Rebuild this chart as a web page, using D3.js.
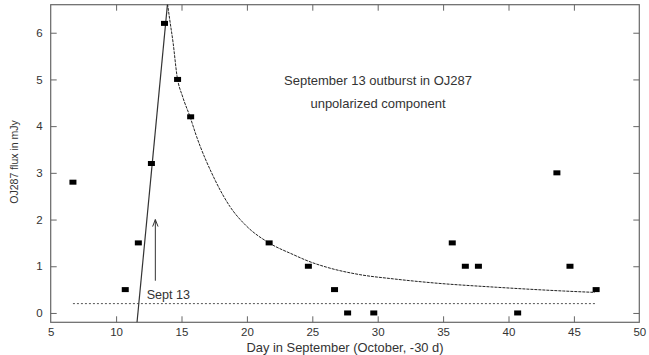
<!DOCTYPE html>
<html>
<head>
<meta charset="utf-8">
<script src="https://cdn.jsdelivr.net/npm/d3@7"></script>
<style>
  html, body { margin: 0; padding: 0; background: #fff; }
  svg { display: block; font-family: "Liberation Sans", Arial, sans-serif; }
</style>
</head>
<body>
<svg id="chart" width="649" height="355"></svg>
<script>
// Observed data (day, flux in mJy)
const days = [6.7, 10.7, 11.7, 12.7, 13.7, 14.7, 15.7, 21.7, 24.7, 26.7, 27.7, 29.7, 35.7, 36.7, 37.7, 40.7, 43.7, 44.7, 46.7];
const flux = [2.8, 0.5, 1.5, 3.2, 6.2, 5.0, 4.2, 1.5, 1.0, 0.5, 0.0, 0.0, 1.5, 1.0, 1.0, 0.0, 3.0, 1.0, 0.5];

// Rising fit line
const riseDays = [11.6, 13.93];
const riseFlux = [-0.2, 6.62];

// Decay fit curve
const decayDays = [13.93, 14.1, 14.36, 14.66, 15.1, 15.64, 16.15, 17.42, 18.7, 19.97, 21.63, 23.54, 24.69, 26.09, 28.64, 31.19, 34, 39.1, 44.2, 46.6];
const decayFlux = [6.62, 6.28, 5.78, 5.07, 4.62, 4.21, 3.78, 2.93, 2.28, 1.86, 1.51, 1.25, 1.11, 0.98, 0.82, 0.73, 0.65, 0.55, 0.47, 0.44];

// Baseline level
const baseDays = [6.7, 46.7];
const baseFlux = [0.2, 0.2];

// Arrow marking Sept 13
const arrowDay = 13;
const arrowFlux = [0.69, 2.0];

const xTicks = [5, 10, 15, 20, 25, 30, 35, 40, 45, 50];
const yTicks = [0, 1, 2, 3, 4, 5, 6];

const titleLines = ["September 13 outburst in OJ287", "unpolarized component"];
const xLabel = "Day in September (October, -30 d)";
const yLabel = "OJ287 flux in mJy";
const arrowLabel = "Sept 13";

(function () {
const svg = d3.select("#chart");
const pL = 50.7, pR = 639.3, pT = 4.7, pB = 322.3;

const x = d3.scaleLinear().domain([5, 50]).range([pL, pR]);
const y = d3.scaleLinear().domain([-0.2, 6.6]).range([pB, pT]);

const frameColor = "#666";
const textColor = "#333";
const tickLen = 6;

svg.append("defs").append("clipPath").attr("id", "clip")
  .append("rect").attr("x", pL).attr("y", pT).attr("width", pR - pL).attr("height", pB - pT);

const axB = svg.append("g").attr("transform", `translate(0,${pB})`)
  .call(d3.axisBottom(x).tickValues(xTicks).tickSize(-tickLen).tickPadding(6).tickFormat(d3.format("d")));
const axT = svg.append("g").attr("transform", `translate(0,${pT})`)
  .call(d3.axisTop(x).tickValues(xTicks).tickSize(-tickLen).tickFormat(""));
const axL = svg.append("g").attr("transform", `translate(${pL},0)`)
  .call(d3.axisLeft(y).tickValues(yTicks).tickSize(-tickLen).tickPadding(8).tickFormat(d3.format("d")));
const axR = svg.append("g").attr("transform", `translate(${pR},0)`)
  .call(d3.axisRight(y).tickValues(yTicks).tickSize(-tickLen).tickFormat(""));

[axB, axT, axL, axR].forEach(g => {
  g.select(".domain").remove();
  g.selectAll(".tick line").attr("stroke", frameColor).attr("stroke-width", 1);
  g.selectAll(".tick text").attr("fill", textColor).style("font-size", "11.5px")
    .style("font-family", "'Liberation Sans', Arial, sans-serif");
});
axB.selectAll(".tick").filter(d => d === 5 || d === 50).select("line").remove();
axT.selectAll(".tick").filter(d => d === 5 || d === 50).select("line").remove();

svg.append("rect").attr("x", pL).attr("y", pT).attr("width", pR - pL).attr("height", pB - pT)
  .attr("fill", "none").attr("stroke", frameColor).attr("stroke-width", 1.2);

const plot = svg.append("g").attr("clip-path", "url(#clip)");

const line = d3.line().x(d => x(d[0])).y(d => y(d[1]));
plot.append("path").datum(d3.zip(baseDays, baseFlux)).attr("d", line)
  .attr("fill", "none").attr("stroke", "#555").attr("stroke-width", 1).attr("stroke-dasharray", "2,2");

plot.append("path").datum(d3.zip(riseDays, riseFlux)).attr("d", line)
  .attr("fill", "none").attr("stroke", "#333").attr("stroke-width", 1.2);

const curveLine = d3.line().x(d => x(d[0])).y(d => y(d[1])).curve(d3.curveMonotoneX);
plot.append("path").datum(d3.zip(decayDays, decayFlux)).attr("d", curveLine)
  .attr("fill", "none").attr("stroke", "#222").attr("stroke-width", 1).attr("stroke-dasharray", "3,1");

const ax = x(arrowDay), ay0 = y(arrowFlux[0]), ay1 = y(arrowFlux[1]);
svg.append("line").attr("x1", ax).attr("x2", ax).attr("y1", ay0).attr("y2", ay1)
  .attr("stroke", "#333").attr("stroke-width", 1);
svg.append("path").attr("d", `M${ax - 2.7},${ay1 + 7} L${ax},${ay1} L${ax + 2.7},${ay1 + 7}`)
  .attr("fill", "none").attr("stroke", "#333").attr("stroke-width", 1);

svg.append("text").attr("x", 146.7).attr("y", 299)
  .attr("fill", textColor).style("font-size", "12.6px").text(arrowLabel);

plot.selectAll("rect.pt").data(d3.zip(days, flux)).enter().append("rect")
  .attr("class", "pt")
  .attr("x", d => x(d[0]) - 3.5).attr("y", d => y(d[1]) - 2.5)
  .attr("width", 7).attr("height", 5).attr("fill", "#000");

titleLines.forEach((t, i) => {
  svg.append("text").attr("x", 378).attr("y", 84.7 + i * 23.3).attr("text-anchor", "middle")
    .attr("fill", textColor).style("font-size", "13px").text(t);
});

svg.append("text").attr("x", (pL + pR) / 2).attr("y", 352).attr("text-anchor", "middle")
  .attr("fill", textColor).style("font-size", "12.9px").text(xLabel);
svg.append("text").attr("transform", `translate(18,162) rotate(-90)`).attr("text-anchor", "middle")
  .attr("fill", textColor).style("font-size", "10.5px").text(yLabel);
})();
</script>
</body>
</html>
